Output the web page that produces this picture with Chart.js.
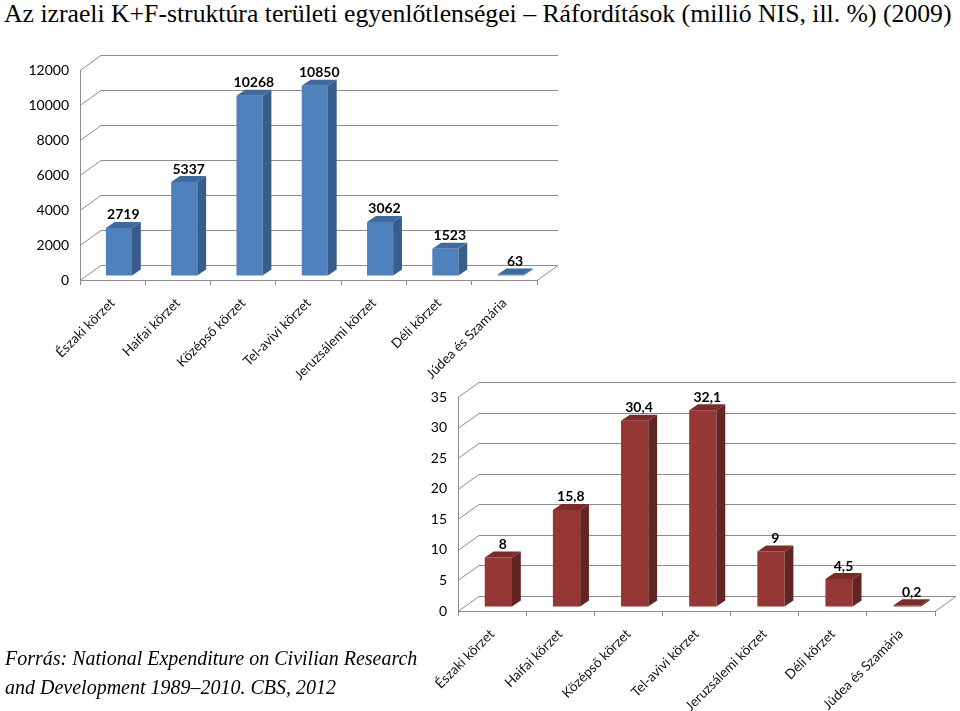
<!DOCTYPE html>
<html>
<head>
<meta charset="utf-8">
<script src="https://cdn.jsdelivr.net/npm/chart.js@4/dist/chart.umd.min.js"></script>
<style>
body { margin:0; width:960px; height:711px; background:#fff; position:relative; overflow:hidden; }
#cim { position:absolute; left:4px; top:0px; font:25px "Liberation Serif", serif; white-space:nowrap; color:#000; transform-origin:0 0; }
#forras { position:absolute; left:5px; top:644px; font:italic 20px/29px "Liberation Serif", serif; color:#000; white-space:nowrap; }
#c1 { position:absolute; left:0; top:40px; }
#c2 { position:absolute; left:380px; top:370px; }
</style>
</head>
<body>
<div id="cim">Az izraeli K+F-struktúra területi egyenlőtlenségei – Ráfordítások (millió NIS, ill. %) (2009)</div>
<canvas id="c1" width="570" height="350"></canvas>
<canvas id="c2" width="580" height="341"></canvas>
<div id="forras">Forrás: National Expenditure on Civilian Research<br>and Development 1989–2010. CBS, 2012</div>
<script>
// adatok
const korzetek = ["Északi körzet", "Haifai körzet", "Középső körzet", "Tel-avivi körzet", "Jeruzsálemi körzet", "Déli körzet", "Júdea és Szamária"];
const raforditasNIS = [2719, 5337, 10268, 10850, 3062, 1523, 63];
const raforditasSzazalek = [8, 15.8, 30.4, 32.1, 9, 4.5, 0.2];

const racsSzin = '#8c8c8c';
const betu = 'Lato';

// cim szelessege mint az eredetin
const cim = document.getElementById('cim');
cim.style.transform = 'scaleX(' + (948 / cim.offsetWidth) + ')';

// 3D-s hatas: hatso fal, oldalfal, oszlopok oldala es teteje
const haromD = {
    id: 'haromD',
    beforeDraw(chart, args, o) {
        const ctx = chart.ctx, a = chart.chartArea, y = chart.scales.y;
        ctx.save();
        ctx.strokeStyle = racsSzin;
        ctx.lineWidth = 1;
        y.ticks.forEach(t => {
            const py = Math.round(y.getPixelForValue(t.value)) + 0.5;
            ctx.beginPath();
            ctx.moveTo(a.left, py);
            ctx.lineTo(a.left + o.dx, py + o.dy);
            ctx.lineTo(a.right + o.dx, py + o.dy);
            ctx.stroke();
        });
        ctx.beginPath();
        ctx.moveTo(a.right, a.bottom + 0.5);
        ctx.lineTo(a.right + o.dx, a.bottom + 0.5 + o.dy);
        ctx.stroke();
        ctx.restore();
    },
    beforeDatasetsDraw(chart, args, o) {
        chart.ctx.save();
        chart.ctx.translate(o.dx * 0.3, o.dy * 0.3);
    },
    afterDatasetsDraw(chart, args, o) {
        const ctx = chart.ctx;
        const bdx = o.dx * 0.42, bdy = o.dy * 0.4;
        const ds = chart.data.datasets[0];
        chart.getDatasetMeta(0).data.forEach((bar, i) => {
            const p = bar.getProps(['x', 'y', 'base', 'width'], true);
            const l = p.x - p.width / 2, r = p.x + p.width / 2;
            ctx.fillStyle = o.oldal;
            ctx.beginPath();
            ctx.moveTo(r, p.y);
            ctx.lineTo(r + bdx, p.y + bdy);
            ctx.lineTo(r + bdx, p.base + bdy);
            ctx.lineTo(r, p.base);
            ctx.closePath();
            ctx.fill();
            ctx.fillStyle = o.teto;
            ctx.beginPath();
            ctx.moveTo(l, p.y);
            ctx.lineTo(l + bdx, p.y + bdy);
            ctx.lineTo(r + bdx, p.y + bdy);
            ctx.lineTo(r, p.y);
            ctx.closePath();
            ctx.fill();
            ctx.fillStyle = '#000';
            ctx.font = 'bold 14px ' + betu;
            ctx.textAlign = 'center';
            ctx.textBaseline = 'bottom';
            ctx.fillText(o.cimke(ds.data[i]), p.x + bdx / 2, p.y + bdy);
        });
        ctx.restore();
    }
};

function opciok(max, lepes, yszel, ypad, xmag, padding, szinek) {
    return {
        responsive: false,
        devicePixelRatio: 1,
        animation: false,
        layout: { padding: padding },
        plugins: {
            legend: { display: false },
            tooltip: { enabled: false },
            haromD: szinek
        },
        scales: {
            x: {
                offset: true,
                grid: { display: true, drawOnChartArea: false, drawTicks: true, tickLength: 5, color: racsSzin, offset: true },
                border: { display: true, color: racsSzin },
                ticks: { minRotation: 45, maxRotation: 45, autoSkip: false, padding: 10, color: '#111', font: { family: betu, size: 13.5 } },
                afterFit: s => { s.height = xmag; }
            },
            y: {
                min: 0,
                max: max,
                grid: { display: false },
                border: { display: true, color: racsSzin },
                ticks: { stepSize: lepes, padding: ypad, color: '#000', font: { family: betu, size: 14 }, callback: v => String(v) },
                afterFit: s => { s.width = yszel; }
            }
        }
    };
}

new Chart(document.getElementById('c1'), {
    type: 'bar',
    data: {
        labels: korzetek,
        datasets: [{
            data: raforditasNIS,
            backgroundColor: '#4f81bd',
            categoryPercentage: 1,
            barPercentage: 0.4,
            clip: false
        }]
    },
    options: opciok(12000, 2000, 80, 3, 110, { top: 30, right: 33, left: 0, bottom: 0 },
        { dx: 21, dy: -15, oldal: '#385d8a', teto: '#3e6a9e', cimke: v => String(v) }),
    plugins: [haromD]
});

new Chart(document.getElementById('c2'), {
    type: 'bar',
    data: {
        labels: korzetek,
        datasets: [{
            data: raforditasSzazalek,
            backgroundColor: '#953735',
            categoryPercentage: 1,
            barPercentage: 0.4,
            clip: false
        }]
    },
    options: opciok(35, 5, 78, 3, 100, { top: 27, right: 25, left: 0, bottom: 0 },
        { dx: 21, dy: -15, oldal: '#632523', teto: '#7b2b29', cimke: v => String(v).replace('.', ',') }),
    plugins: [haromD]
});
</script>
</body>
</html>
